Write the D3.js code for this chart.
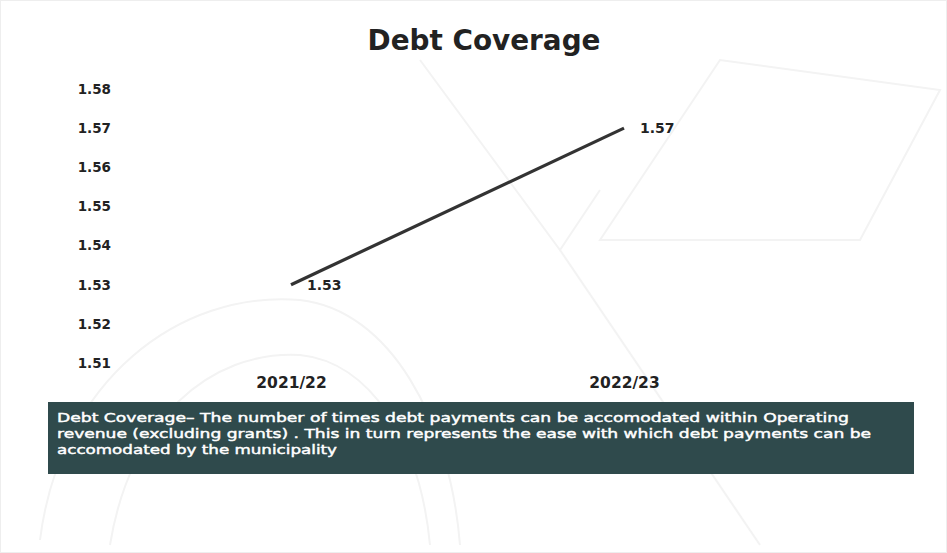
<!DOCTYPE html>
<html><head><meta charset="utf-8">
<script src="https://cdn.jsdelivr.net/npm/d3@7/dist/d3.min.js"></script>
<style>body{margin:0;background:#fff}svg{display:block}</style>
</head><body>
<script>
const categories = ["2021/22", "2022/23"];
const values = [1.53, 1.57];
const yTicks = [1.51, 1.52, 1.53, 1.54, 1.55, 1.56, 1.57, 1.58];
const title = "Debt Coverage";
const noteLines = [
  "Debt Coverage\u2013  The number of times debt payments can be accomodated within Operating",
  "revenue (excluding grants) .  This in turn represents the ease with which debt payments can be",
  "accomodated by the municipality"
];

const W = 947, H = 553;
const svg = d3.select("body").append("svg").attr("width", W).attr("height", H);
const font = "'DejaVu Sans', sans-serif";

// faint watermark-like shapes
const wm = svg.append("g").attr("fill", "none").attr("stroke", "#f3f3f3").attr("stroke-width", 2);
wm.append("path").attr("d", "M40,540 C60,380 180,290 300,300 C390,310 450,420 460,545");
wm.append("path").attr("d", "M110,545 C130,420 210,350 300,355 C370,362 420,440 430,545");
wm.append("path").attr("d", "M600,240 L720,60 L940,90 L860,240 Z");
wm.append("path").attr("d", "M420,60 L560,250 L600,190");
wm.append("path").attr("d", "M560,250 L760,545");
svg.append("rect").attr("x", 0.5).attr("y", 0.5).attr("width", W - 1).attr("height", H - 1)
  .attr("fill", "none").attr("stroke", "#eeeeee");

const x = d3.scalePoint().domain(categories).range([291, 624]);
const y = d3.scaleLinear().domain([1.51, 1.58]).range([363, 89]);

// title
svg.append("text").attr("x", 484).attr("y", 50).attr("text-anchor", "middle")
  .attr("font-family", font).attr("font-weight", "bold").attr("font-size", 28)
  .attr("fill", "#222").attr("textLength", 233).attr("lengthAdjust", "spacingAndGlyphs").text(title);

// y axis
const yAxis = d3.axisLeft(y).tickValues(yTicks).tickFormat(d3.format(".2f")).tickSize(0).tickPadding(0);
const yg = svg.append("g").attr("transform", "translate(111,0)").call(yAxis);
yg.select(".domain").remove();
yg.selectAll("text").attr("font-family", font).attr("font-weight", "bold")
  .attr("font-size", 13.5).attr("fill", "#222");

// x axis
const xAxis = d3.axisBottom(x).tickSize(0).tickPadding(0);
const xg = svg.append("g").attr("transform", "translate(0,377)").call(xAxis);
xg.select(".domain").remove();
xg.selectAll("text").attr("font-family", font).attr("font-weight", "bold")
  .attr("font-size", 15.5).attr("fill", "#222");

// line
const data = categories.map((c, i) => ({c, v: values[i]}));
svg.append("path").datum(data)
  .attr("d", d3.line().x(d => x(d.c)).y(d => y(d.v)))
  .attr("fill", "none").attr("stroke", "#333").attr("stroke-width", 3.2);

// data labels
svg.selectAll(".lbl").data(data).enter().append("text")
  .attr("x", d => x(d.c) + 16).attr("y", d => y(d.v) + 5)
  .attr("font-family", font).attr("font-weight", "bold").attr("font-size", 14)
  .attr("fill", "#222").text(d => d3.format(".2f")(d.v));

// note box
svg.append("rect").attr("x", 48).attr("y", 402).attr("width", 866).attr("height", 72)
  .attr("fill", "#2f4a4c");
const noteW = [792, 814, 280];
svg.selectAll(".note").data(noteLines).enter().append("text")
  .attr("x", 57).attr("y", (d, i) => 422 + i * 16)
  .attr("font-family", font).attr("font-size", 13)
  .attr("fill", "#fff").attr("stroke", "#fff").attr("stroke-width", 0.45)
  .attr("textLength", (d, i) => noteW[i]).attr("lengthAdjust", "spacingAndGlyphs")
  .text(d => d);
</script>
</body></html>
